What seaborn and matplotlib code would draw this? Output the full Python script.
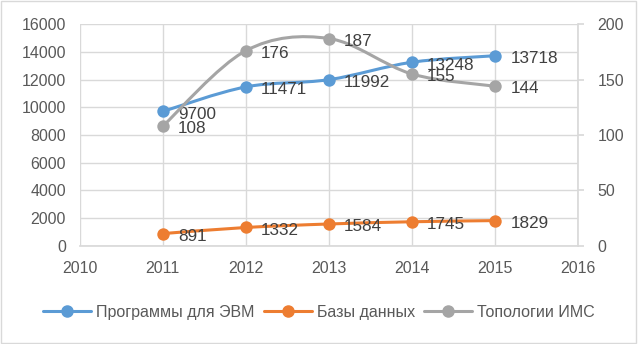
import numpy as np
import seaborn as sns
import pandas as pd
import matplotlib.pyplot as plt
from matplotlib.path import Path
from matplotlib.patches import PathPatch, Rectangle
from matplotlib.lines import Line2D

# data
years = [2011, 2012, 2013, 2014, 2015]
programs = [9700, 11471, 11992, 13248, 13718]
databases = [891, 1332, 1584, 1745, 1829]
topologies = [108, 176, 187, 155, 144]
series_names = ['Программы для ЭВМ', 'Базы данных', 'Топологии ИМС']
colors = ['#5B9BD5', '#ED7D31', '#A5A5A5']

sns.set_theme(style='white')
plt.rcParams['font.family'] = ['Liberation Sans', 'DejaVu Sans']

grid_c = '#D9D9D9'
tick_c = '#595959'
lab_c = '#404040'


def smooth_path(x, y):
    # catmull-rom like excel smoothed line, as bezier segments
    x = np.asarray(x, float)
    y = np.asarray(y, float)
    p = np.column_stack([x, y])
    verts = [p[0]]
    codes = [Path.MOVETO]
    n = len(p)
    for i in range(n - 1):
        p0 = p[i - 1] if i > 0 else p[i]
        p3 = p[i + 2] if i + 2 < n else p[i + 1]
        c1 = p[i] + (p[i + 1] - p0) / 6
        c2 = p[i + 1] - (p3 - p[i]) / 6
        verts += [c1, c2, p[i + 1]]
        codes += [Path.CURVE4] * 3
    return Path(verts, codes)


fig = plt.figure(figsize=(6.38, 3.44), dpi=100)
ax = fig.add_axes([0.125, 0.285, 0.781, 0.645])
ax2 = ax.twinx()

df = pd.DataFrame({'year': years, 'prog': programs, 'db': databases, 'top': topologies})

for col, c, a in [('prog', colors[0], ax), ('db', colors[1], ax), ('top', colors[2], ax2)]:
    a.add_patch(PathPatch(smooth_path(df['year'], df[col]), fill=False,
                          edgecolor=c, lw=2.2, zorder=3, capstyle='round'))
    sns.scatterplot(data=df, x='year', y=col, ax=a, color=c, s=80,
                    edgecolor=c, linewidth=0, zorder=4, legend=False)
    for xv, yv in zip(df['year'], df[col]):
        a.annotate(str(yv), (xv, yv), xytext=(11, -2), textcoords='offset points',
                   ha='left', va='center', fontsize=12.3, color=lab_c, zorder=5)

ax.set_xlim(2010, 2016)
ax.set_ylim(0, 16000)
ax2.set_ylim(0, 200)
ax.set_xticks(range(2010, 2017))
ax.set_yticks(range(0, 16001, 2000))
ax2.set_yticks(range(0, 201, 50))
ax.set_xlabel('')
ax.set_ylabel('')
ax2.set_ylabel('')

ax.grid(True, color=grid_c, lw=1)
ax2.grid(False)
for s in ['top', 'left', 'right']:
    ax.spines[s].set_visible(False)
    ax2.spines[s].set_visible(False)
ax.spines['bottom'].set_color(grid_c)
ax2.spines['bottom'].set_visible(False)
ax2.spines['right'].set_visible(True)
ax2.spines['right'].set_color(grid_c)

ax.tick_params(axis='both', length=0, labelsize=11.5, colors=tick_c)
ax.tick_params(axis='x', pad=11)
ax.tick_params(axis='y', pad=10)
ax2.tick_params(axis='y', length=4, color=grid_c, labelsize=11.5,
                labelcolor=tick_c, pad=10, direction='out')

handles = [Line2D([0], [0], color=c, lw=2.2, marker='o', markersize=8) for c in colors]
fig.legend(handles, series_names, loc='center', bbox_to_anchor=(0.5, 0.093), ncol=3,
           frameon=False, fontsize=11.5, labelcolor=tick_c, handlelength=3,
           columnspacing=0.6, handletextpad=0.3)

fig.patches.append(Rectangle((0.002, 0.003), 0.995, 0.993, transform=fig.transFigure,
                             fill=False, edgecolor=grid_c, lw=1))

fig.savefig('out.png', dpi=100)
